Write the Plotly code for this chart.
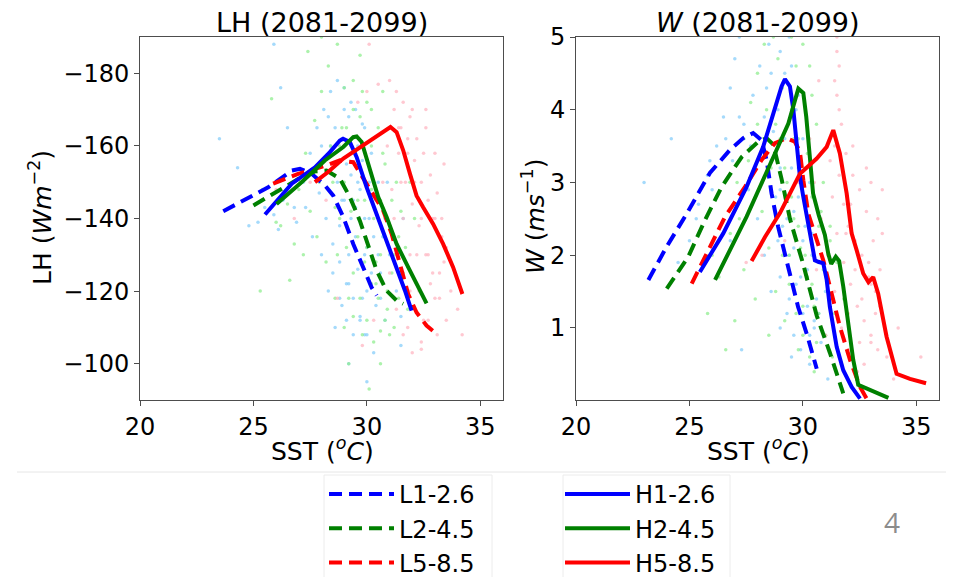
import plotly.graph_objects as go

FIG_W, FIG_H = 954, 577
OFF = 8  # the page draws the figure 8px in from the top-left corner

# ---------------- composite lines, LH panel (SST in degC, LH in W m-2)
lh_L1_sst = [23.67, 25.65, 26.69, 27.05, 27.57, 28.15, 28.52, 28.96, 29.40, 29.84, 30.21, 30.43]
lh_L1_val = [-142.0, -148.6, -153.2, -153.7, -152.3, -149.1, -146.3, -140.4, -133.0, -126.6, -121.0, -118.8]
lh_L2_sst = [25.00, 26.24, 27.12, 27.71, 28.22, 28.81, 29.25, 29.69, 30.06, 30.43, 30.87, 31.31, 31.60]
lh_L2_val = [-143.6, -148.2, -151.4, -153.0, -153.2, -151.0, -145.9, -139.4, -132.1, -125.7, -120.1, -117.4, -116.5]
lh_L5_sst = [25.87, 26.97, 28.22, 28.81, 29.40, 29.84, 30.28, 30.72, 31.09, 31.46, 31.82, 32.19, 32.63, 33.00]
lh_L5_val = [-149.6, -152.3, -154.6, -156.0, -155.5, -151.0, -146.8, -142.2, -135.8, -127.5, -119.2, -114.1, -110.5, -108.6]
lh_H1_sst = [25.51, 26.69, 27.71, 28.37, 28.81, 28.95, 29.25, 29.55, 29.99, 30.43, 30.87, 31.31, 31.68, 31.97]
lh_H1_val = [-141.1, -149.6, -154.1, -158.3, -161.5, -162.0, -161.1, -156.9, -148.6, -141.3, -133.9, -126.6, -120.1, -114.6]
lh_H2_sst = [26.02, 27.12, 28.15, 28.96, 29.40, 29.55, 29.77, 30.14, 30.50, 30.87, 31.31, 31.82, 32.26, 32.63]
lh_H2_val = [-144.0, -150.0, -156.0, -159.7, -162.4, -162.6, -161.1, -153.2, -145.9, -140.4, -133.0, -126.6, -121.0, -116.6]
lh_H5_sst = [27.71, 28.29, 28.96, 29.40, 30.14, 30.72, 31.04, 31.31, 31.60, 31.90, 32.19, 32.48, 32.92, 33.36, 33.80, 34.21]
lh_H5_val = [-150.0, -152.8, -156.5, -158.3, -161.5, -163.8, -165.2, -163.8, -158.8, -152.3, -146.3, -143.1, -138.5, -133.0, -126.6, -119.2]

# ---------------- composite lines, W panel (SST in degC, W in m s-1)
w_L1_sst = [23.19, 24.00, 24.88, 25.90, 26.79, 27.37, 27.81, 28.18, 28.40, 28.62, 28.91, 29.20, 29.50, 29.79, 30.17, 30.61]
w_L1_val = [1.66, 2.12, 2.57, 3.13, 3.45, 3.61, 3.68, 3.58, 3.31, 2.85, 2.39, 2.02, 1.66, 1.29, 0.92, 0.44]
w_L2_sst = [24.00, 24.95, 25.68, 26.42, 27.30, 28.03, 28.40, 28.70, 29.06, 29.43, 30.02, 30.61, 31.19, 31.78]
w_L2_val = [1.54, 1.98, 2.48, 2.94, 3.35, 3.56, 3.61, 3.52, 3.05, 2.50, 1.87, 1.17, 0.66, 0.10]
w_L5_sst = [25.10, 25.83, 26.57, 27.45, 28.18, 28.77, 29.28, 29.65, 29.87, 30.02, 30.24, 30.61, 30.90, 31.27, 31.63, 32.08, 32.52, 32.81]
w_L5_val = [1.61, 2.07, 2.53, 2.94, 3.31, 3.54, 3.61, 3.56, 3.42, 3.03, 2.57, 2.21, 1.93, 1.47, 1.02, 0.56, 0.19, 0.03]
w_H1_sst = [25.46, 26.49, 27.52, 28.25, 28.70, 29.06, 29.21, 29.43, 29.58, 29.72, 29.87, 30.02, 30.24, 30.39, 30.53, 30.68, 30.90, 31.05, 31.19, 31.49, 31.78, 32.15, 32.52]
w_H1_val = [1.77, 2.30, 2.94, 3.49, 3.95, 4.32, 4.42, 4.32, 4.00, 3.54, 3.08, 2.80, 2.44, 2.16, 1.93, 1.91, 1.89, 1.66, 1.29, 0.74, 0.42, 0.19, 0.03]
w_H2_sst = [26.13, 27.52, 28.70, 29.36, 29.80, 30.02, 30.15, 30.30, 30.45, 30.70, 30.97, 31.12, 31.25, 31.45, 31.60, 31.78, 32.00, 32.22, 32.44, 32.96, 33.77]
w_H2_val = [1.66, 2.53, 3.35, 3.81, 4.29, 4.23, 3.90, 3.30, 2.85, 2.55, 2.28, 2.02, 1.88, 1.98, 1.92, 1.57, 1.02, 0.56, 0.22, 0.15, 0.04]
w_H5_sst = [27.74, 28.33, 28.99, 29.87, 30.61, 31.05, 31.34, 31.63, 31.93, 32.15, 32.37, 32.66, 32.89, 33.10, 33.32, 33.69, 34.13, 34.72, 35.43]
w_H5_val = [1.92, 2.25, 2.58, 3.12, 3.33, 3.49, 3.72, 3.40, 2.85, 2.30, 2.07, 1.75, 1.63, 1.70, 1.47, 0.88, 0.37, 0.30, 0.24]

# ---------------- individual samples (faint clouds)
lh_blue_sst = [24.8, 25.2, 25.9, 26.3, 26.8, 27.2, 27.5, 27.8, 28.1, 28.4, 28.7, 29.0, 29.3, 27.9, 28.2, 28.5, 28.8, 29.1, 29.4, 29.7,
               30.0, 30.3, 30.0, 29.2, 28.6, 28.3, 28.0, 28.9, 29.3, 29.6, 29.9, 30.2, 30.5, 30.8, 31.0, 31.3, 31.5, 30.6, 30.3, 29.9,
               29.5, 29.2, 28.7, 28.4, 27.6, 26.2, 24.3, 23.5, 25.9, 26.5, 30.8, 31.5, 29.8, 30.4, 28.9, 29.6, 30.9, 31.6,
               28.6, 28.9, 29.2, 29.5, 29.8, 30.1, 30.4, 30.7, 28.7, 29.0, 29.3, 29.6, 29.9, 30.2, 30.5, 28.8, 29.1, 29.4, 29.7, 30.0,
               30.3, 30.6, 28.5, 28.8, 29.1, 29.4, 29.7, 30.0, 29.2, 29.5, 29.8, 30.1, 27.3, 26.9, 26.1, 25.5, 28.0, 28.3, 29.0, 29.9]
lh_blue_val = [-138, -139, -141, -145, -143, -150, -158, -165, -170, -175, -178, -176, -172, -147, -140, -133, -128, -122, -118, -113,
               -108, -103, -95, -100, -110, -120, -130, -145, -152, -160, -165, -158, -150, -140, -130, -120, -113, -125, -135, -140,
               -135, -130, -155, -160, -135, -176, -154, -162, -188, -165, -112, -105, -118, -116, -116, -126, -150, -140,
               -165, -162, -168, -170, -166, -150, -145, -135, -150, -145, -140, -150, -130, -125, -130, -138, -155, -145, -148, -120,
               -128, -118, -125, -118, -112, -108, -112, -132, -122, -143, -156, -140, -143, -139, -137, -143, -160, -168, -170, -108]
lh_green_sst = [25.3, 25.4, 26.0, 26.5, 27.0, 27.3, 27.7, 28.0, 28.3, 28.0, 27.4, 29.0, 29.4, 29.8, 30.2, 28.5, 28.8, 29.1, 29.4, 29.7,
                30.0, 30.3, 30.6, 30.1, 29.0, 28.6, 28.2, 27.8, 29.9, 30.2, 30.5, 30.8, 31.1, 31.4, 31.6, 31.8, 31.2, 30.9, 30.6, 30.3,
                29.6, 29.3, 28.9, 26.6, 27.2, 31.9, 32.1, 30.7, 29.7, 28.7, 25.8, 30.4, 31.0, 29.2,
                28.8, 29.1, 29.4, 29.7, 30.0, 30.3, 30.6, 30.9, 31.2, 29.0, 29.3, 29.6, 29.9, 30.2, 30.5, 30.8, 31.1, 31.4, 28.7, 29.2,
                29.8, 30.4, 31.0, 31.3, 29.5, 30.0, 30.7, 28.4, 27.9, 27.5, 26.8, 26.2, 30.9, 31.5, 29.9, 29.4, 28.6, 30.2, 31.7, 30.6]
lh_green_val = [-120, -148, -139, -144, -148, -158, -167, -175, -182, -190, -186, -176, -178, -175, -170, -150, -140, -132, -125, -118,
                -112, -106, -100, -93, -110, -118, -128, -135, -150, -160, -165, -155, -145, -135, -125, -115, -110, -120, -130, -140,
                -145, -160, -165, -123, -130, -150, -140, -175, -185, -188, -173, -122, -108, -100,
                -160, -165, -170, -168, -172, -150, -145, -140, -130, -150, -142, -135, -128, -122, -118, -112, -125, -118, -130, -118,
                -108, -128, -138, -150, -158, -132, -158, -160, -150, -142, -133, -138, -115, -142, -145, -113, -143, -148, -132, -109]
lh_pink_sst = [31.0, 31.3, 31.6, 31.9, 32.2, 32.5, 32.8, 33.1, 33.3, 33.5, 33.2, 33.0, 32.7, 32.4, 32.0, 31.6, 31.3, 31.0, 30.8, 31.2,
               31.5, 31.8, 32.1, 32.4, 32.7, 32.9, 33.4, 30.0, 30.5, 29.6, 30.3, 29.8, 28.7, 28.2, 27.5, 26.8, 26.0, 34.0, 34.2, 33.7,
               30.9, 31.4, 32.3, 31.9, 33.5, 30.1, 32.6, 29.1,
               31.2, 31.5, 31.8, 32.1, 32.4, 32.7, 33.0, 33.3, 31.4, 31.7, 32.0, 32.3, 32.6, 32.9, 33.2, 31.1, 31.6, 32.2, 32.8, 33.4,
               30.7, 31.3, 31.9, 32.5, 33.1, 32.0, 32.6, 33.0, 31.8, 32.4]
lh_pink_val = [-178, -175, -172, -168, -162, -158, -152, -147, -140, -132, -125, -118, -112, -106, -103, -108, -115, -125, -135, -140,
               -150, -158, -150, -140, -130, -140, -155, -175, -177, -172, -112, -105, -118, -145, -150, -140, -148, -115, -108, -120,
               -160, -165, -120, -130, -112, -188, -170, -138,
               -170, -165, -162, -156, -150, -145, -140, -135, -158, -150, -144, -138, -130, -125, -118, -148, -140, -130, -122, -128,
               -150, -130, -120, -112, -108, -170, -165, -158, -110, -104]

w_blue_sst = [24.5, 25.0, 25.4, 25.8, 26.2, 26.5, 26.8, 27.0, 27.2, 26.0, 26.9, 27.4, 27.8, 28.1, 28.5, 29.0, 29.4, 29.2, 28.3, 28.6,
              29.0, 29.3, 29.6, 29.9, 30.2, 30.5, 30.8, 29.5, 29.0, 28.6, 28.3, 28.0, 29.8, 30.1, 30.4, 30.7, 31.0, 29.7, 30.0, 27.6,
              26.8, 25.6, 23.0, 24.2, 27.3, 30.3, 31.1, 29.4, 28.9,
              28.6, 28.9, 29.2, 29.5, 29.8, 30.1, 30.4, 28.8, 29.1, 29.4, 29.7, 30.0, 30.3, 30.6, 29.0, 29.3, 29.6, 29.9, 30.2, 30.5,
              28.4, 28.7, 29.5, 29.8, 30.3, 27.2, 26.6, 25.9, 25.3, 27.7, 28.2, 29.0, 29.6, 30.0, 30.7]
w_blue_val = [1.9, 2.2, 2.7, 3.1, 3.5, 3.9, 4.3, 4.7, 5.0, 2.9, 3.3, 3.8, 4.2, 4.6, 4.9, 4.8, 5.0, 4.5, 3.9, 3.3,
              2.9, 2.5, 2.1, 1.7, 1.3, 1.0, 0.8, 0.6, 1.0, 1.5, 2.0, 2.5, 3.2, 2.7, 2.3, 1.9, 1.5, 4.0, 3.6, 2.9,
              2.2, 1.9, 3.0, 3.6, 0.7, 0.5, 0.3, 1.4, 2.2,
              4.5, 4.0, 3.6, 3.2, 2.8, 2.4, 2.0, 2.8, 2.4, 2.0, 1.6, 1.2, 0.9, 1.4, 1.7, 1.2, 0.9, 0.7, 1.8, 1.1,
              4.3, 3.7, 4.6, 4.2, 3.0, 3.9, 3.6, 3.3, 2.5, 3.5, 3.0, 3.2, 2.6, 2.2, 1.2]
w_green_sst = [26.3, 26.8, 27.1, 27.4, 27.7, 28.0, 28.3, 28.7, 29.5, 30.0, 30.3, 29.1, 28.8, 29.2, 29.5, 29.8, 30.1, 30.4, 30.7, 31.0,
               31.3, 30.5, 29.8, 29.2, 28.8, 28.5, 28.2, 30.6, 30.9, 31.2, 31.5, 31.8, 30.2, 27.9, 27.4, 26.6, 25.8, 28.5, 31.7, 30.8,
               29.6, 27.0, 30.0, 29.4,
               28.9, 29.2, 29.5, 29.8, 30.1, 30.4, 30.7, 29.0, 29.3, 29.6, 29.9, 30.2, 30.5, 30.8, 31.1, 29.4, 29.7, 30.0, 30.3, 30.6,
               30.9, 31.2, 28.4, 28.0, 27.6, 28.6, 29.1, 29.7, 30.4, 31.4, 26.0, 27.2]
w_green_val = [1.7, 2.3, 3.0, 3.6, 4.1, 4.5, 4.9, 5.0, 5.0, 4.9, 4.6, 4.3, 3.8, 3.2, 2.8, 2.4, 2.0, 1.6, 1.2, 0.9,
               0.6, 0.4, 0.7, 1.1, 1.5, 2.1, 2.6, 3.8, 3.0, 2.4, 1.9, 1.4, 3.4, 1.4, 1.8, 0.7, 1.2, 0.9, 0.5, 2.6,
               3.6, 1.1, 1.3, 2.0,
               4.7, 4.4, 4.0, 3.6, 3.2, 2.8, 2.4, 3.6, 3.0, 2.5, 2.1, 1.7, 1.3, 1.0, 1.5, 1.6, 1.2, 0.9, 0.6, 0.8,
               1.8, 2.2, 4.0, 3.8, 3.3, 3.2, 2.0, 4.6, 4.2, 1.2, 2.0, 2.5]
w_pink_sst = [31.5, 31.6, 31.5, 31.7, 31.9, 32.2, 32.5, 32.8, 33.1, 33.4, 33.5, 33.2, 33.0, 32.7, 32.4, 32.0, 31.7, 31.4, 31.1, 30.8,
              30.5, 31.3, 31.9, 32.3, 32.6, 33.3, 32.9, 30.3, 29.8, 29.2, 28.2, 27.5, 34.2, 35.2, 34.0, 33.7, 31.0, 30.6, 32.1, 33.0,
              31.2, 30.7,
              31.4, 31.6, 31.8, 32.0, 32.3, 32.6, 32.9, 33.2, 33.4, 31.5, 31.8, 32.1, 32.4, 32.7, 33.0, 33.3, 31.2, 31.6, 32.0, 32.5,
              33.0, 31.5, 31.4, 31.6, 32.2, 32.8, 33.5]
w_pink_val = [5.0, 4.6, 4.2, 3.8, 3.4, 3.1, 2.9, 2.6, 2.2, 1.8, 2.9, 1.2, 0.8, 0.5, 0.4, 0.7, 1.0, 1.5, 2.0, 2.5,
              3.0, 2.8, 2.3, 1.8, 1.4, 2.5, 1.7, 3.6, 3.0, 2.2, 2.0, 1.9, 1.0, 0.6, 0.3, 0.6, 0.9, 1.8, 2.7, 3.0,
              3.3, 4.4,
              3.5, 3.1, 2.7, 2.4, 2.2, 2.0, 1.9, 1.5, 1.3, 2.3, 1.9, 1.6, 1.3, 1.1, 0.9, 0.7, 1.3, 0.6, 1.2, 0.8,
              1.6, 4.8, 4.4, 4.0, 3.5, 3.2, 2.3]

x_ticks = [20, 25, 30, 35]
lh_ticks = [-180, -160, -140, -120, -100]
w_ticks = [1, 2, 3, 4, 5]

FONT = "DejaVu Sans"
BLUE, GREEN, RED = "#0000ff", "#008000", "#ff0000"
DASH = "13px,7px"


def px(x):
    return (x - OFF) / FIG_W


def py(y):
    return 1 - (y - OFF) / FIG_H


fig = go.Figure()

clouds = [
    (lh_blue_sst, lh_blue_val, "#87cefa", "x", "y"),
    (lh_green_sst, lh_green_val, "#90ee90", "x", "y"),
    (lh_pink_sst, lh_pink_val, "#ffb6c1", "x", "y"),
    (w_blue_sst, w_blue_val, "#87cefa", "x2", "y2"),
    (w_green_sst, w_green_val, "#90ee90", "x2", "y2"),
    (w_pink_sst, w_pink_val, "#ffb6c1", "x2", "y2"),
]
for xs, ys, col, xa, ya in clouds:
    fig.add_trace(go.Scatter(x=xs, y=ys, mode="markers", xaxis=xa, yaxis=ya, showlegend=False,
                             marker=dict(size=3.5, color=col, opacity=0.75), hoverinfo="skip"))

lines = [
    ("L1-2.6", BLUE, DASH, lh_L1_sst, lh_L1_val, w_L1_sst, w_L1_val, "legend"),
    ("L2-4.5", GREEN, DASH, lh_L2_sst, lh_L2_val, w_L2_sst, w_L2_val, "legend"),
    ("L5-8.5", RED, DASH, lh_L5_sst, lh_L5_val, w_L5_sst, w_L5_val, "legend"),
    ("H1-2.6", BLUE, "solid", lh_H1_sst, lh_H1_val, w_H1_sst, w_H1_val, "legend2"),
    ("H2-4.5", GREEN, "solid", lh_H2_sst, lh_H2_val, w_H2_sst, w_H2_val, "legend2"),
    ("H5-8.5", RED, "solid", lh_H5_sst, lh_H5_val, w_H5_sst, w_H5_val, "legend2"),
]
for name, col, dash, xs1, ys1, xs2, ys2, leg in lines:
    fig.add_trace(go.Scatter(x=xs1, y=ys1, mode="lines", name=name, legend=leg,
                             line=dict(color=col, width=4, dash=dash)))
    fig.add_trace(go.Scatter(x=xs2, y=ys2, mode="lines", name=name, showlegend=False,
                             xaxis="x2", yaxis="y2", line=dict(color=col, width=4, dash=dash)))

axis_style = dict(showgrid=False, zeroline=False, showline=True, linecolor="#4d4d4d", linewidth=1,
                  mirror=True, ticks="outside", ticklen=5, tickcolor="#4d4d4d",
                  tickfont=dict(size=24, color="black", family=FONT))

ydom = [py(400), py(37)]
fig.update_layout(
    width=FIG_W, height=FIG_H,
    margin=dict(l=0, r=0, t=0, b=0, autoexpand=False),
    paper_bgcolor="white", plot_bgcolor="white",
    font=dict(family=FONT, color="black"),
    xaxis=dict(domain=[px(140), px(503)], range=[20, 36], tickvals=x_ticks, anchor="y", **axis_style),
    yaxis=dict(domain=ydom, range=[-90, -190], tickvals=lh_ticks, anchor="x", **axis_style),
    xaxis2=dict(domain=[px(576), px(939)], range=[20, 36], tickvals=x_ticks, anchor="y2", **axis_style),
    yaxis2=dict(domain=ydom, range=[0.01, 5], tickvals=w_ticks, anchor="x2", **axis_style),
    legend=dict(x=px(324), y=py(472), xanchor="left", yanchor="top", bgcolor="rgba(0,0,0,0)",
                font=dict(size=24, family=FONT), itemwidth=65, tracegroupgap=0),
    legend2=dict(x=px(560), y=py(472), xanchor="left", yanchor="top", bgcolor="rgba(0,0,0,0)",
                 font=dict(size=24, family=FONT), itemwidth=65, tracegroupgap=0),
    showlegend=True,
)

ann = [
    dict(x=px(321.5), y=py(22), text="LH (2081-2099)", size=27),
    dict(x=px(757.5), y=py(22), text="<i>W</i> (2081-2099)", size=27),
    dict(x=px(322), y=py(449), text="SST (<sup><i>o</i></sup><i>C</i>)", size=25),
    dict(x=px(758), y=py(449), text="SST (<sup><i>o</i></sup><i>C</i>)", size=25),
]
for a in ann:
    fig.add_annotation(x=a["x"], y=a["y"], xref="paper", yref="paper", text=a["text"], showarrow=False,
                       xanchor="center", yanchor="middle", font=dict(size=a["size"], family=FONT, color="black"))
fig.add_annotation(x=px(40), y=py(218), xref="paper", yref="paper", text="LH (<i>Wm</i><sup>−2</sup>)",
                   textangle=-90, showarrow=False, xanchor="center", yanchor="middle",
                   font=dict(size=25, family=FONT, color="black"))
fig.add_annotation(x=px(533), y=py(217), xref="paper", yref="paper", text="<i>W</i> (<i>ms</i><sup>−1</sup>)",
                   textangle=-90, showarrow=False, xanchor="center", yanchor="middle",
                   font=dict(size=25, family=FONT, color="black"))
# slide page number
fig.add_annotation(x=px(902), y=py(543), xref="paper", yref="paper", text="4", showarrow=False,
                   font=dict(size=28, family="Open Sans", color="#8c8c8c"))

# faint slide frame lines behind the legend
fig.add_shape(type="line", xref="paper", yref="paper", x0=px(17), x1=px(950), y0=py(472), y1=py(472),
              line=dict(color="#e6e6e6", width=1), layer="below")
for x0, x1 in [(324, 492), (563, 730)]:
    fig.add_shape(type="rect", xref="paper", yref="paper", x0=px(x0), x1=px(x1), y0=py(600), y1=py(475),
                  line=dict(color="#ececec", width=1), fillcolor="white", layer="below")

fig.write_html("out.html")
